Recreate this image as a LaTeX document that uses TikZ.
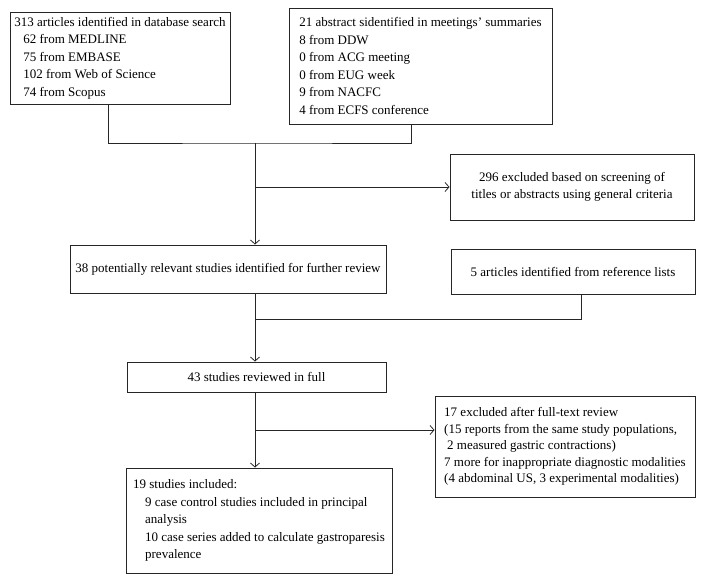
\documentclass[tikz,border=0pt]{standalone}
\usepackage{fontspec}
\setmainfont{Liberation Serif}
\usetikzlibrary{arrows.meta}
\begin{document}
\begin{tikzpicture}[x=1pt,y=-1pt,
	box/.style={draw=black!85, line width=0.9pt, inner xsep=2pt, inner ysep=0pt, font=\fontsize{13}{17.5}\selectfont},
	link/.style={draw=black!85, line width=0.8pt},
	>={Straight Barb[length=4pt,width=9pt]}]
	\useasboundingbox (0,0) rectangle (704,582);
	% sources
	\node[box, align=left, minimum width=220pt, minimum height=92pt] (search) at (120,58) {313 articles identified in database search\\
		\hspace*{9pt}62 from MEDLINE\\
		\hspace*{9pt}75 from EMBASE\\
		\hspace*{9pt}102 from Web of Science\\
		\hspace*{9pt}74 from Scopus};
	\node[box, align=left, minimum width=263pt, minimum height=116pt] (meet) at (420.5,66) {21 abstract sidentified in meetings' summaries\\
		8 from DDW\\
		0 from ACG meeting\\
		0 from EUG week\\
		9 from NACFC\\
		4 from ECFS conference};
	% screening
	\node[box, align=center, minimum width=244pt, minimum height=66pt] (screen) at (572,187) {296 excluded based on screening of\\titles or abstracts using general criteria};
	\node[box, align=center, minimum width=316pt, minimum height=48pt] (relevant) at (228,269) {38 potentially relevant studies identified for further review};
	\node[box, align=center, minimum width=244pt, minimum height=45pt] (refs) at (573,271.5) {5 articles identified from reference lists};
	% full text
	\node[box, align=center, minimum width=259pt, minimum height=30pt] (full) at (256.5,377) {43 studies reviewed in full};
	\node[box, align=left, minimum width=260pt, minimum height=101pt, font=\fontsize{13}{16.5}\selectfont] (fulltext) at (565,446.5) {17 excluded after full-text review\\
		(15 reports from the same study populations,\\
		\hspace*{3pt}2 measured gastric contractions)\\
		7 more for inappropriate diagnostic modalities\\
		(4 abdominal US, 3 experimental modalities)};
	\node[box, align=left, minimum width=266pt, minimum height=105pt] (included) at (259,520.5) {19 studies included:\\
		\hspace*{12pt}9 case control studies included in principal\\
		\hspace*{12pt}analysis\\
		\hspace*{12pt}10 case series added to calculate gastroparesis\\
		\hspace*{12pt}prevalence};
	% connectors
	\coordinate (j1) at (255,143);
	\coordinate (b1) at (255,187);
	\coordinate (j2) at (255,319);
	\coordinate (b2) at (255,430);
	\draw[link] ([xshift=-12pt]search.south) |- (j1) -| ([xshift=-9.5pt]meet.south);
	\draw[link,->] (j1) -- (j1 |- relevant.north);
	\draw[link,->] (b1) -- (b1 -| screen.west);
	\draw[link] (j2 |- relevant.south) -- (j2) -| ([xshift=8pt]refs.south);
	\draw[link,->] (j2) -- (j2 |- full.north);
	\draw[link,->] (j2 |- full.south) -- (j2 |- included.north);
	\draw[link,->] (b2) -- (b2 -| fulltext.west);
\end{tikzpicture}
\end{document}
